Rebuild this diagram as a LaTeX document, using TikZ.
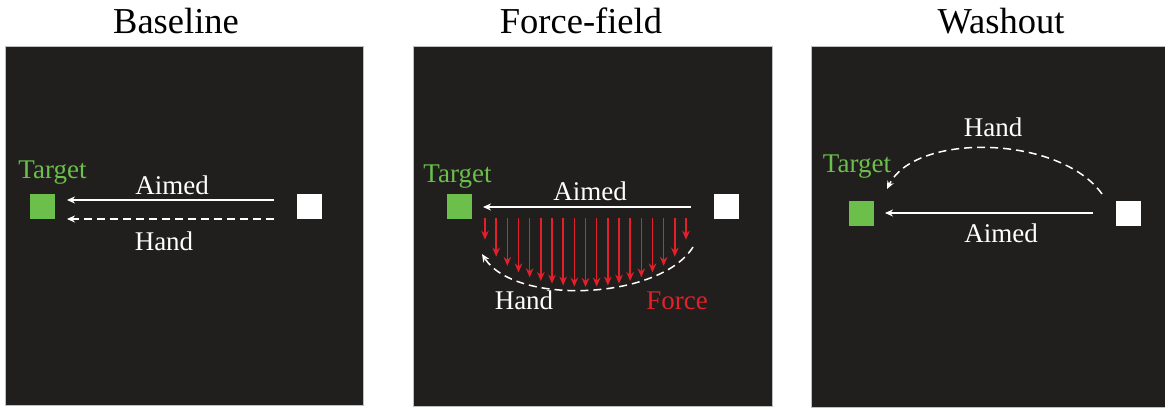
\documentclass[tikz,border=0pt]{standalone}
\usepackage{fontspec}
\setmainfont{Liberation Serif}
\usetikzlibrary{arrows.meta}
\definecolor{bg}{HTML}{201F1D}
\definecolor{tgreen}{HTML}{6BBF4A}
\definecolor{fred}{HTML}{E3202A}
\begin{document}
\begin{tikzpicture}[x=1pt,y=-1pt,
 panel/.style={fill=bg, draw=gray!50, line width=0.8pt},
 sq/.style={minimum size=25pt, inner sep=0pt, outer sep=0pt},
 tsq/.style={sq, fill=tgreen},
 ssq/.style={sq, fill=white},
 lbl/.style={font=\fontsize{27}{30}\selectfont, text=white, anchor=base, inner sep=0pt},
 ttl/.style={font=\fontsize{36.5}{40}\selectfont, text=black, anchor=base, inner sep=0pt},
 tgt/.style={lbl, text=tgreen},
 mv/.style={white, line width=1.5pt, -{Stealth[length=8pt,width=7pt]}},
 mvd/.style={mv, dash pattern=on 8pt off 5pt},
 farrow/.style={fred, line width=1.5pt, -{Stealth[length=9pt,width=7.5pt]}}]
\useasboundingbox (0,0) rectangle (1165,408);
\fill[white] (0,0) rectangle (1165,408);
% panels
\draw[panel] (5,46) rectangle (363,405);
\draw[panel] (413,46) rectangle (772,406);
\draw[panel] (811,46) rectangle (1166,407);
% titles
\node[ttl] (ttl1) at (176,33) {Baseline};
\node[ttl] (ttl2) at (581,33) {Force-field};
\node[ttl] (ttl3) at (1001,33) {Washout};
% ---- panel 1
\node[tsq] (t1) at (42.5,206) {};
\node[ssq] (s1) at (309.5,206) {};
\node[tgt] (tl1) at (52.5,178) {Target};
\coordinate (a1s) at (274,200);
\coordinate (a1e) at (67,200);
\coordinate (h1s) at (274,219);
\coordinate (h1e) at (67,219);
\draw[mv] (a1s) -- (a1e);
\draw[mvd] (h1s) -- (h1e);
\node[lbl] (al1) at (172,194) {Aimed};
\node[lbl] (hl1) at (164,250) {Hand};
% ---- panel 2
\node[tsq] (t2) at (459.5,206) {};
\node[ssq] (s2) at (726.5,206) {};
\node[tgt] (tl2) at (457.5,182) {Target};
\coordinate (a2s) at (691,207);
\coordinate (a2e) at (483,207);
\draw[mv] (a2s) -- (a2e);
\node[lbl] (al2) at (590,200) {Aimed};
\foreach \i in {0,...,18} {
  \pgfmathsetmacro\xx{485+\i*201/18}
  \pgfmathsetmacro\yy{226.5+60.5*sqrt(max(0,1-((\xx-585.5)/103)^2))}
  \draw[farrow] (\xx,218) -- (\xx,\yy);
}
\coordinate (h2s) at (693,247);
\coordinate (h2e) at (482,254);
\draw[mvd] (h2s) .. controls (660,300) and (515,306) .. (h2e);
\node[lbl] (hl2) at (524,309) {Hand};
\node[lbl, text=fred] (fl2) at (677,309) {Force};
% ---- panel 3
\node[tsq] (t3) at (861.5,213.5) {};
\node[ssq] (s3) at (1128.5,213.5) {};
\node[tgt] (tl3) at (857,172) {Target};
\coordinate (a3s) at (1093,213);
\coordinate (a3e) at (885,213);
\draw[mv] (a3s) -- (a3e);
\node[lbl] (al3) at (1001,242) {Aimed};
\coordinate (h3s) at (1102,194);
\coordinate (h3e) at (887,189);
\draw[mvd] (h3s) .. controls (1060,135) and (915,132) .. (h3e);
\node[lbl] (hl3) at (993,136) {Hand};
\end{tikzpicture}
\end{document}
